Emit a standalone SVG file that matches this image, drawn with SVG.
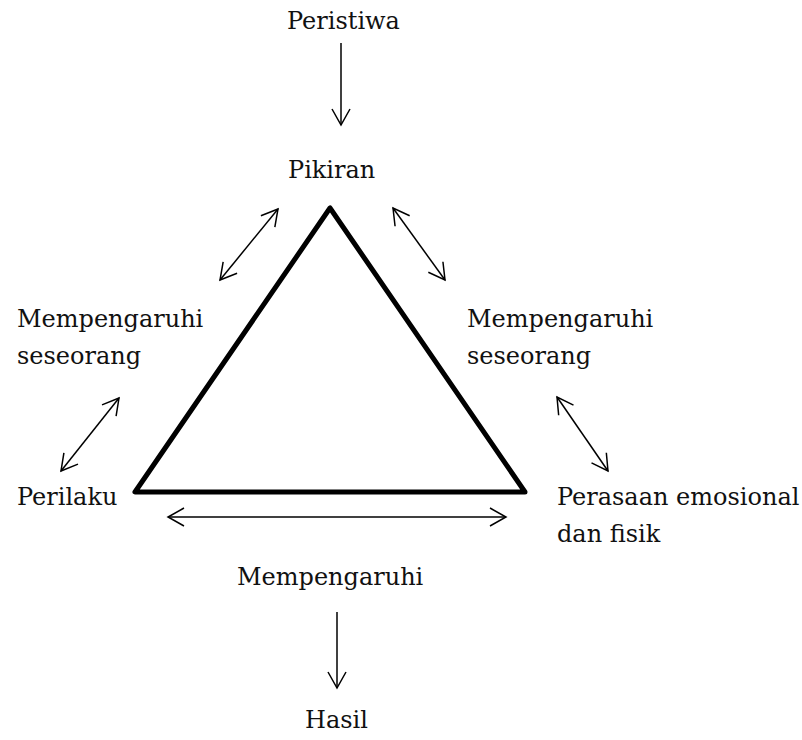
<svg xmlns="http://www.w3.org/2000/svg" width="802" height="740" viewBox="0 0 802 740">
<style>
text{font-family:"DejaVu Serif","Liberation Serif",serif;font-size:24px;fill:#111}
.c{fill:none;stroke:#000;stroke-width:1.5}
.tri{fill:none;stroke:#000;stroke-width:5;stroke-linejoin:round}
</style>
<defs>
<marker id="ah" markerUnits="userSpaceOnUse" markerWidth="40" markerHeight="40" viewBox="-20 -20 40 40" refX="0" refY="0" orient="auto-start-reverse">
<path d="M-16,-9 L0,0 L-16,9" fill="none" stroke="#000" stroke-width="1.5"/>
</marker>
</defs>
<rect width="802" height="740" fill="#fff"/>
<g id="triangle"><polygon class="tri" points="330,208 135,492 525,492"/></g>
<g id="n-peristiwa"><text x="287" y="29">Peristiwa</text></g>
<g id="n-pikiran"><text x="288" y="178">Pikiran</text></g>
<g id="n-mempengaruhi-left"><text x="17" y="327">Mempengaruhi</text><text x="17" y="364">seseorang</text></g>
<g id="n-mempengaruhi-right"><text x="467" y="327">Mempengaruhi</text><text x="467" y="364">seseorang</text></g>
<g id="n-perilaku"><text x="17" y="505">Perilaku</text></g>
<g id="n-perasaan"><text x="557" y="505">Perasaan emosional</text><text x="557" y="542">dan fisik</text></g>
<g id="n-mempengaruhi-bottom"><text x="237" y="585">Mempengaruhi</text></g>
<g id="n-hasil"><text x="305" y="728">Hasil</text></g>
<g id="connectors">
<line class="c" x1="341" y1="43" x2="341" y2="125" marker-end="url(#ah)"/>
<line class="c" x1="220" y1="280" x2="278" y2="209" marker-start="url(#ah)" marker-end="url(#ah)"/>
<line class="c" x1="393" y1="208" x2="445" y2="280" marker-start="url(#ah)" marker-end="url(#ah)"/>
<line class="c" x1="119" y1="398" x2="61" y2="471" marker-start="url(#ah)" marker-end="url(#ah)"/>
<line class="c" x1="557" y1="397" x2="608" y2="471" marker-start="url(#ah)" marker-end="url(#ah)"/>
<line class="c" x1="168" y1="517" x2="506" y2="517" marker-start="url(#ah)" marker-end="url(#ah)"/>
<line class="c" x1="337" y1="612" x2="337" y2="688" marker-end="url(#ah)"/>
</g>
</svg>
